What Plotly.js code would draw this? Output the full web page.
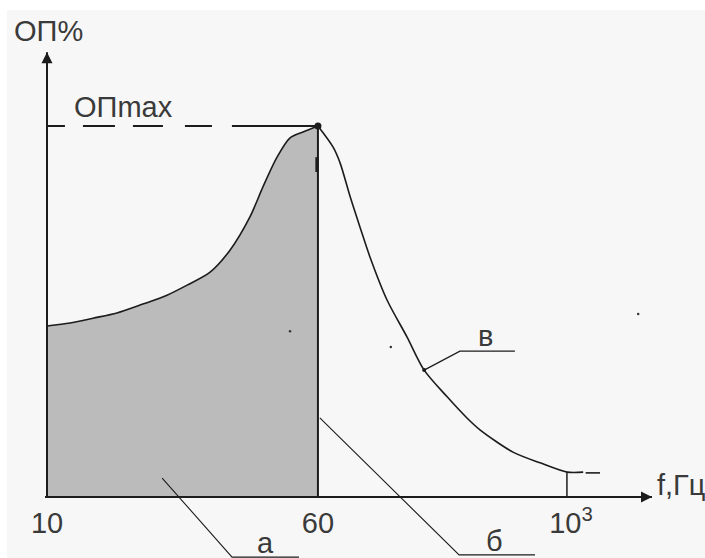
<!DOCTYPE html>
<html>
<head>
<meta charset="utf-8">
<script src="https://cdn.plot.ly/plotly-3.0.1.min.js"></script>
<style>
  html, body { margin: 0; padding: 0; background: #ffffff; }
  #chart { width: 705px; height: 558px; }
</style>
</head>
<body>
<div id="chart"></div>
<script>
// Schematic frequency axis: 10 Hz at 0, 60 Hz at 100, 10^3 Hz near 192
const freqTicks = [0, 100, 191.9];
const freqLabels = ['10', '60', '&nbsp;10<sup>3</sup>'];

// Peak value of ОП (percent scale, 100 = ОПmax)
const opMax = 100;
const peakFreq = 100;

// Rising branch (shaded area a) from 10 Hz up to the 60 Hz peak
const riseX = [0, 8.5, 17.0, 25.8, 35.4, 44.3, 51.7, 60.2, 67.6, 74.9, 79.7, 84.9, 89.7, 94.5, 100];
const riseY = [46.1, 46.9, 48.2, 49.6, 52.0, 54.4, 57.1, 60.6, 66.6, 75.5, 83.6, 91.6, 96.8, 98.4, 100];

// Falling branch (curve в) above 60 Hz
const fallX = [100, 105.6, 108.2, 111.9, 115.5, 119.2, 125.5, 132.9, 139.2, 147.7, 155.0, 159.8, 172.0, 182.0, 192.0, 197.9];
const fallY = [100, 94.3, 90.0, 80.9, 72.8, 64.7, 53.1, 43.1, 34.2, 27.0, 21.3, 18.1, 12.1, 9.2, 6.7, 6.7];
const tailX = [198.8, 204.1];
const tailY = [6.5, 6.5];

// Leader lines for the labels а, б, в
const leaderAX = [42.5, 68.3, 93.0];
const leaderAY = [5.1, -16.2, -16.2];
const leaderBX = [100.7, 152.1, 180.1];
const leaderBY = [21.3, -15.6, -15.6];
const leaderVX = [139.2, 152.4, 172.7];
const leaderVY = [34.2, 39.3, 39.3];

// Specks scattered over the drawing
const speckX = [89.7, 126.9, 218.2];
const speckY = [44.7, 40.4, 49.3];

const xMin = -0.74, xMax = 223.3;
const yMin = -16.44, yMax = 123.18;
const yAxisTop = 119.9;

const ink = '#1c1c1c';
const textFont = { family: 'Liberation Sans, Arial, sans-serif', size: 29, color: '#3a3a3a' };

const traces = [
  // shaded area under the rising branch
  { x: riseX, y: riseY, type: 'scatter', mode: 'lines', fill: 'tozeroy',
    fillcolor: '#bbbbbb', line: { color: ink, width: 1.6, shape: 'spline', smoothing: 0.8 }, hoverinfo: 'skip' },
  // falling branch
  { x: fallX, y: fallY, type: 'scatter', mode: 'lines',
    line: { color: ink, width: 1.6, shape: 'spline', smoothing: 0.8 }, hoverinfo: 'skip' },
  { x: tailX, y: tailY, type: 'scatter', mode: 'lines',
    line: { color: ink, width: 1.6 }, hoverinfo: 'skip' },
  // vertical at 60 Hz
  { x: [peakFreq, peakFreq], y: [0, opMax], type: 'scatter', mode: 'lines',
    line: { color: ink, width: 2 }, hoverinfo: 'skip' },
  { x: [peakFreq - 0.4, peakFreq - 0.4], y: [87.6, 91.6], type: 'scatter', mode: 'lines',
    line: { color: ink, width: 3 }, hoverinfo: 'skip' },
  // tick at 10^3
  { x: [freqTicks[2], freqTicks[2]], y: [0, fallY[fallY.length - 1]], type: 'scatter', mode: 'lines',
    line: { color: ink, width: 1.5 }, hoverinfo: 'skip' },
  // ОПmax dashed level
  { x: [peakFreq, 0], y: [opMax, opMax], type: 'scatter', mode: 'lines',
    line: { color: ink, width: 2, dash: '86px,20px,27px,22px,30px,18px,32px,18px,18px,60px' }, hoverinfo: 'skip' },
  // y axis
  { x: [0, 0], y: [0, yAxisTop], type: 'scatter', mode: 'lines',
    line: { color: ink, width: 2 }, hoverinfo: 'skip' },
  // leaders
  { x: leaderAX, y: leaderAY, type: 'scatter', mode: 'lines',
    line: { color: ink, width: 1.1 }, hoverinfo: 'skip' },
  { x: leaderBX, y: leaderBY, type: 'scatter', mode: 'lines',
    line: { color: ink, width: 1.1 }, hoverinfo: 'skip' },
  { x: leaderVX, y: leaderVY, type: 'scatter', mode: 'lines',
    line: { color: ink, width: 1.3 }, hoverinfo: 'skip' },
  { x: [leaderVX[0]], y: [leaderVY[0]], type: 'scatter', mode: 'markers',
    marker: { color: ink, size: 4 }, hoverinfo: 'skip' },
  // peak point
  { x: [peakFreq], y: [opMax], type: 'scatter', mode: 'markers',
    marker: { color: ink, size: 7 }, cliponaxis: false, hoverinfo: 'skip' },
  // specks
  { x: speckX, y: speckY, type: 'scatter', mode: 'markers',
    marker: { color: '#333', size: 2.5 }, hoverinfo: 'skip' }
];

// plot area in pixels: left 45, width 607, top 40, height 518
const pxToPaperX = px => (px - 45) / 607;
const pxToPaperY = py => (558 - py) / 518;

const layout = {
  width: 705, height: 558,
  margin: { l: 45, r: 53, t: 40, b: 0, pad: 0 },
  paper_bgcolor: '#f7f7f7',
  plot_bgcolor: '#f7f7f7',
  showlegend: false,
  xaxis: {
    range: [xMin, xMax], anchor: 'free', position: (0 - yMin) / (yMax - yMin),
    showgrid: false, zeroline: false, showline: true, linecolor: ink, linewidth: 2,
    ticks: '', tickvals: freqTicks, ticktext: freqLabels, tickfont: textFont,
    fixedrange: true
  },
  yaxis: {
    range: [yMin, yMax], showgrid: false, zeroline: false, showline: false,
    showticklabels: false, ticks: '', fixedrange: true
  },
  shapes: [
    { type: 'rect', xref: 'paper', yref: 'paper', x0: -0.08, x1: 1.1,
      y0: pxToPaperY(10), y1: 1.1, fillcolor: '#ffffff', line: { width: 0 }, layer: 'above' },
    { type: 'rect', xref: 'paper', yref: 'paper', x0: -0.08, x1: pxToPaperX(7),
      y0: -0.01, y1: 1.1, fillcolor: '#ffffff', line: { width: 0 }, layer: 'above' }
  ],
  annotations: [
    // axis arrowheads
    { x: xMax, y: 0, xref: 'x', yref: 'y', ax: -14, ay: 0, axref: 'pixel', ayref: 'pixel',
      text: '', showarrow: true, arrowhead: 2, arrowsize: 1.1, arrowwidth: 2, arrowcolor: ink },
    { x: 0, y: yAxisTop, xref: 'x', yref: 'y', ax: 0, ay: 14, axref: 'pixel', ayref: 'pixel',
      text: '', showarrow: true, arrowhead: 2, arrowsize: 1.1, arrowwidth: 2, arrowcolor: ink },
    // text labels
    { x: pxToPaperX(12), y: pxToPaperY(31), xref: 'paper', yref: 'paper', xanchor: 'left', yanchor: 'middle',
      text: 'ОП%', showarrow: false, font: textFont },
    { x: 9.2, y: 105.1, xref: 'x', yref: 'y', xanchor: 'left', yanchor: 'middle',
      text: 'ОПmax', showarrow: false, font: textFont },
    { x: pxToPaperX(655), y: pxToPaperY(485), xref: 'paper', yref: 'paper', xanchor: 'left', yanchor: 'middle',
      text: 'f,Гц', showarrow: false, font: textFont },
    { x: 161.7, y: 43.4, xref: 'x', yref: 'y', xanchor: 'center', yanchor: 'middle',
      text: 'в', showarrow: false, font: textFont },
    { x: 165.0, y: -11.9, xref: 'x', yref: 'y', xanchor: 'center', yanchor: 'middle',
      text: 'б', showarrow: false, font: textFont },
    { x: 80.5, y: -12.4, xref: 'x', yref: 'y', xanchor: 'center', yanchor: 'middle',
      text: 'а', showarrow: false, font: textFont }
  ]
};

Plotly.newPlot('chart', traces, layout, { staticPlot: true, displayModeBar: false });
</script>
</body>
</html>
